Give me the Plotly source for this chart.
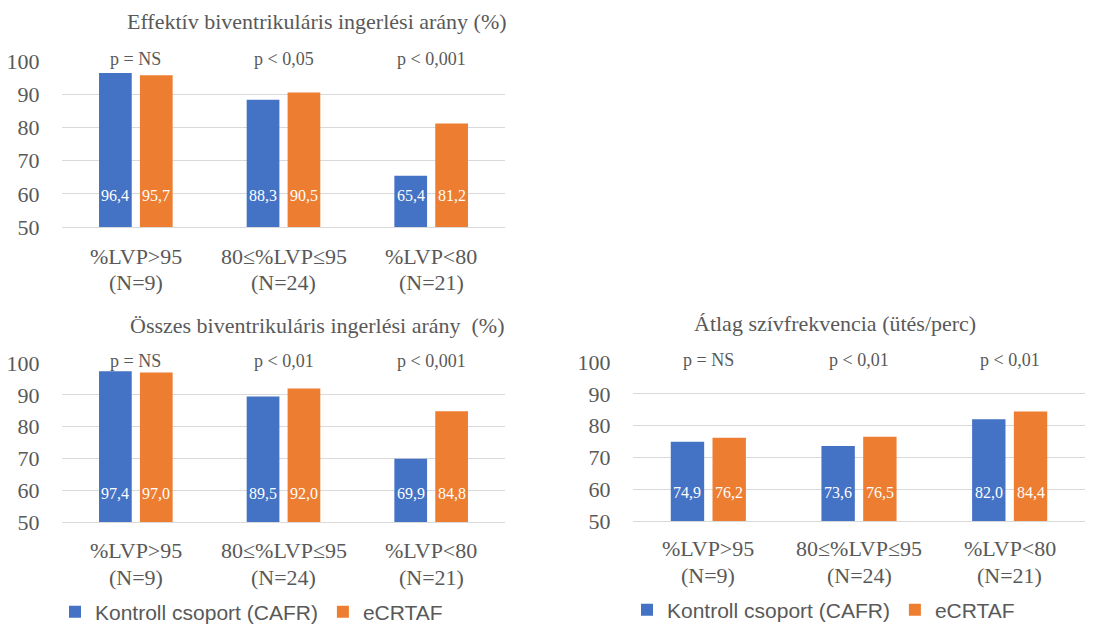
import plotly.graph_objects as go

# Category labels shared by all three panels (two lines each)
categories = ["%LVP>95<br>(N=9)", "80≤%LVP≤95<br>(N=24)", "%LVP<80<br>(N=21)"]
series_names = ["Kontroll csoport (CAFR)", "eCRTAF"]

# Panel 1: effective biventricular pacing ratio (%)
eff_control = [96.4, 88.3, 65.4]
eff_ecrtaf = [95.7, 90.5, 81.2]
eff_p = ["p = NS", "p < 0,05", "p < 0,001"]

# Panel 2: total biventricular pacing ratio (%)
tot_control = [97.4, 89.5, 69.9]
tot_ecrtaf = [97.0, 92.0, 84.8]
tot_p = ["p = NS", "p < 0,01", "p < 0,001"]

# Panel 3: mean heart rate (beats/min)
hr_control = [74.9, 73.6, 82.0]
hr_ecrtaf = [76.2, 76.5, 84.4]
hr_p = ["p = NS", "p < 0,01", "p < 0,01"]

titles = [
    "Effektív biventrikuláris ingerlési arány (%)",
    "Összes biventrikuláris ingerlési arány  (%)",
    "Átlag szívfrekvencia (ütés/perc)",
]

BLUE = "#4472C4"
ORANGE = "#ED7D31"
GRID = "#D9D9D9"
TXT = "#595959"
SERIF = "Liberation Serif, Times New Roman, serif"
SANS = "Liberation Sans, Arial, sans-serif"

W, H = 1098, 626

def px_x(p):
    return p / W

def px_y(p):
    return 1 - p / H

fig = go.Figure()

panels = [
    # control, ecrtaf, p-values, axis suffix, legend id,
    # x-domain px, y-domain px (top, bottom), title centre px, label shift, category label rows px
    (eff_control, eff_ecrtaf, eff_p, "", None, (62, 505), (61, 227), (317, 21), -2, (256, 282)),
    (tot_control, tot_ecrtaf, tot_p, "2", "legend", (62, 505), (363, 522), (317, 325), -3, (550, 577)),
    (hr_control, hr_ecrtaf, hr_p, "3", "legend2", (633, 1085), (362, 521), (835, 323), -3, (548, 575)),
]

annotations = []
for idx, (ctrl, ecr, pv, sfx, leg, xd, yd, tpos, lshift, rows) in enumerate(panels):
    xa = "x" + sfx
    ya = "y" + sfx
    for vals, name, color in ((ctrl, series_names[0], BLUE), (ecr, series_names[1], ORANGE)):
        kw = dict(x=categories, y=vals, name=name, marker=dict(color=color, line=dict(width=0)),
                  xaxis=xa, yaxis=ya, hoverinfo="skip")
        if leg is None:
            kw["showlegend"] = False
        else:
            kw["legend"] = leg
        fig.add_trace(go.Bar(**kw))

    cat_w = (xd[1] - xd[0]) / 3
    shift = cat_w * (1 - 0.446) / 4
    for i in range(3):
        # value labels inside the bars, near the 60 line
        for vals, sgn in ((ctrl, -1), (ecr, 1)):
            annotations.append(dict(
                x=i, y=60, xref=xa, yref=ya, text=f"{vals[i]:.1f}".replace(".", ","),
                showarrow=False, xshift=sgn * shift, yshift=lshift,
                font=dict(family=SERIF, size=16, color="white"),
            ))
        # significance label above each group
        annotations.append(dict(
            x=i, y=100, xref=xa, yref=ya, text=pv[i], showarrow=False, yshift=2,
            font=dict(family=SERIF, size=18, color=TXT),
        ))
        # category label, one annotation per line
        for line, row in zip(categories[i].split("<br>"), rows):
            annotations.append(dict(
                x=i, y=px_y(row), xref=xa, yref="paper", text=line, showarrow=False,
                xanchor="center", yanchor="middle",
                font=dict(family=SERIF, size=22, color=TXT),
            ))
    annotations.append(dict(
        x=px_x(tpos[0]), y=px_y(tpos[1]), xref="paper", yref="paper", text=titles[idx],
        showarrow=False, xanchor="center", yanchor="middle",
        font=dict(family=SERIF, size=22, color=TXT),
    ))

    fig.layout["xaxis" + sfx] = dict(
        domain=[px_x(xd[0]), px_x(xd[1])], anchor=ya, type="category",
        showgrid=False, showline=True, linecolor=GRID, linewidth=1,
        showticklabels=False, ticks="", fixedrange=True,
    )
    fig.layout["yaxis" + sfx] = dict(
        domain=[px_y(yd[1]), px_y(yd[0])], anchor=xa, range=[50, 100],
        tick0=50, dtick=10, showgrid=True, gridcolor=GRID, gridwidth=1,
        zeroline=False, showline=False,
        ticks="outside", ticklen=17, tickcolor="rgba(0,0,0,0)",
        tickfont=dict(family=SERIF, size=22, color=TXT), fixedrange=True,
    )

legend_font = dict(family=SANS, size=21, color=TXT)
fig.update_layout(
    width=W, height=H,
    margin=dict(l=0, r=0, t=0, b=0, autoexpand=False),
    paper_bgcolor="white", plot_bgcolor="white",
    barmode="group", bargap=0.446, bargroupgap=0.2,
    annotations=annotations,
    legend=dict(orientation="h", x=px_x(55), y=px_y(612), xanchor="left", yanchor="middle",
                font=legend_font, bgcolor="rgba(0,0,0,0)"),
    legend2=dict(orientation="h", x=px_x(627), y=px_y(610), xanchor="left", yanchor="middle",
                 font=legend_font, bgcolor="rgba(0,0,0,0)"),
)

fig.write_html("out.html")
